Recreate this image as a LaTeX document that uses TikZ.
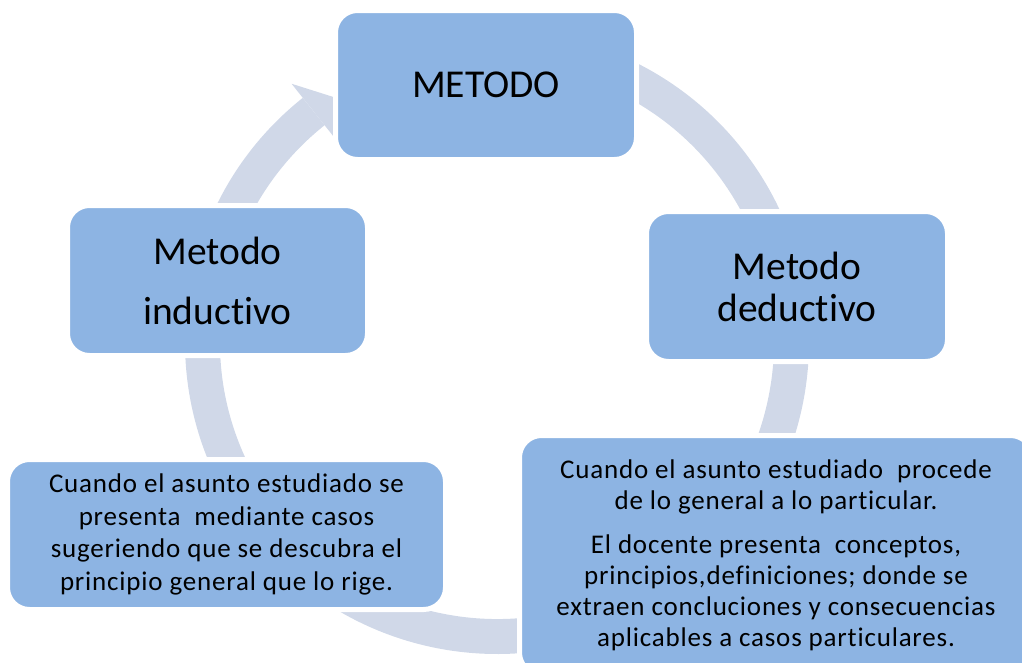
\documentclass[tikz,border=0pt]{standalone}
\usepackage{fontspec}
\setmainfont{Carlito}[Ligatures=NoCommon]
\newfontfamily\smallfnt{Carlito}[Ligatures=NoCommon,LetterSpace=3]
\usetikzlibrary{calc}
\definecolor{boxblue}{RGB}{141,180,227}
\definecolor{ringgray}{RGB}{208,216,232}
\begin{document}
\begin{tikzpicture}[x=1pt,y=1pt,
  stagebox/.style={rounded corners=22pt, fill=boxblue, draw=white, line width=5pt,
    align=center, inner sep=0pt, text=black},
  ringpart/.style={fill=ringgray, draw=none}
]
\useasboundingbox (0,0) rectangle (1022,-662);
\clip (0,0) rectangle (1022,-662);
\coordinate (C) at (497,-342);
% circular ring with arrowhead
\fill[ringpart] ($(C)+(128.5:312)$) arc[start angle=128.5,end angle=440,radius=312]
   -- ($(C)+(440:277)$) arc[start angle=440,end angle=128.5,radius=277] -- cycle;
\coordinate (hb1) at ($(C)+(128.5:330)$);
\coordinate (hb2) at ($(C)+(128.5:259)$);
\coordinate (tip) at ($(C)+(122.5:287)$);
\fill[ringpart] (hb1) -- (tip) -- (hb2) -- cycle;
% boxes
\node[stagebox, minimum width=301pt, minimum height=149pt,
  font=\fontsize{39.5}{47}\selectfont] (metodo) at (486,-85) {METODO};
\node[stagebox, minimum width=300pt, minimum height=150pt,
  font=\fontsize{39.5}{60}\selectfont] (induct) at (217.5,-280.5) {Metodo\\inductivo};
\node[stagebox, minimum width=301pt, minimum height=150pt,
  font=\fontsize{39.5}{42}\selectfont] (deduct) at (797,-286.5) {Metodo\\deductivo};
\node[stagebox, minimum width=438pt, minimum height=150pt,
  font=\smallfnt\fontsize{27}{32.8}\selectfont] (indtext) at (226.5,-534.5)
  {Cuando el asunto estudiado se\\presenta~ mediante casos\\sugeriendo que se descubra el\\principio general que lo rige.};
\node[stagebox, minimum width=513pt, minimum height=239pt,
  font=\smallfnt\fontsize{27}{31}\selectfont] (dedtext) at (776,-555)
  {Cuando el asunto estudiado~ procede\\de lo general a lo particular.\\[13pt]
   El docente presenta~ conceptos,\\principios,definiciones; donde se\\extraen concluciones y consecuencias\\aplicables a casos particulares.};
\end{tikzpicture}
\end{document}
